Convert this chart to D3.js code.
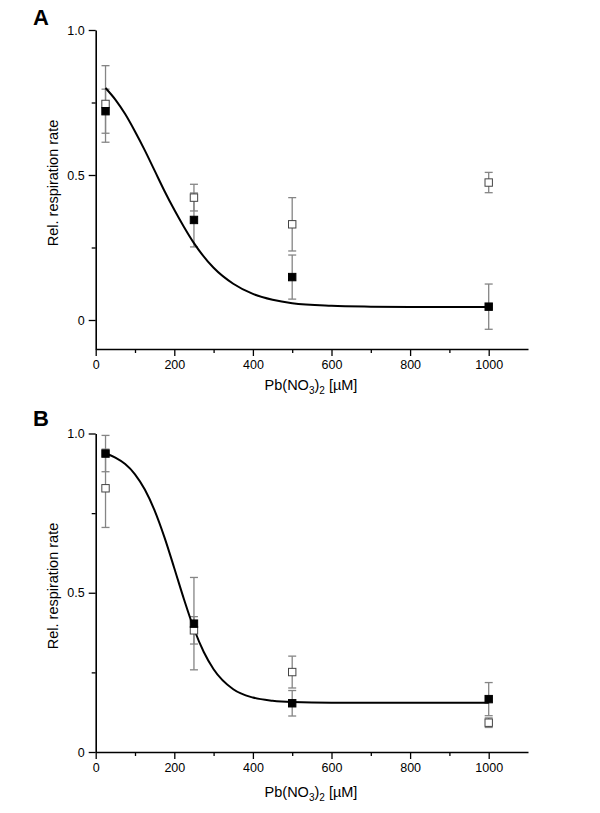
<!DOCTYPE html>
<html>
<head>
<meta charset="utf-8">
<script src="https://cdn.jsdelivr.net/npm/d3@7"></script>
<style>
  html, body { margin: 0; padding: 0; background: #fff; }
  svg { display: block; font-family: "Liberation Sans", Arial, sans-serif; }
</style>
</head>
<body>
<svg id="chart" width="600" height="813"></svg>
<script>
// ---------- data ----------
const concentrations = [25, 250, 500, 1000];

// Panel A
const aFilled = [0.72, 0.345, 0.148, 0.046];
const aFilledErr = [0.076, 0.093, 0.076, 0.078];
const aOpen = [0.745, 0.422, 0.33, 0.474];
const aOpenErr = [0.132, 0.046, 0.092, 0.035];
const aFitX = [25, 50, 75, 100, 125, 150, 175, 200, 225, 250, 300, 350, 400, 450, 500, 600, 700, 800, 1000];
const aFitY = [0.80, 0.76, 0.71, 0.65, 0.585, 0.515, 0.445, 0.38, 0.32, 0.265, 0.18, 0.125, 0.09, 0.07, 0.058, 0.049, 0.046, 0.045, 0.045];

// Panel B
const bFilled = [0.937, 0.403, 0.153, 0.166];
const bFilledErr = [0.057, 0.145, 0.04, 0.052];
const bOpen = [0.828, 0.382, 0.251, 0.092];
const bOpenErr = [0.123, 0.043, 0.05, 0.015];
const bFitX = [25, 50, 75, 100, 125, 150, 175, 200, 225, 250, 275, 300, 350, 400, 450, 500, 600, 1000];
const bFitY = [0.938, 0.924, 0.904, 0.872, 0.824, 0.758, 0.674, 0.577, 0.478, 0.387, 0.314, 0.26, 0.197, 0.171, 0.161, 0.157, 0.155, 0.155];

// ticks / labels
const xMajorTicks = [0, 200, 400, 600, 800, 1000];
const xTickLabels = ["0", "200", "400", "600", "800", "1000"];
const xMinorTicks = [100, 300, 500, 700, 900];
const yMajorTicks = [0, 0.5, 1.0];
const yMinorTicks = [0.25, 0.75];
const yTickLabels = ["0", "0.5", "1.0"];
const yTitle = "Rel. respiration rate";
const panelLetters = ["A", "B"];

// ---------- drawing ----------
const svg = d3.select("#chart");
const FONT = '"Liberation Sans", Arial, sans-serif';

function panel(cfg) {
  const x = d3.scaleLinear().domain([0, 1100]).range([95.7, 528]);
  const y = d3.scaleLinear().domain(cfg.yDomain).range(cfg.yRange);
  const g = svg.append("g");

  // minor ticks
  g.append("g").attr("transform", `translate(0,${cfg.yRange[0]})`)
    .call(d3.axisBottom(x).tickValues(xMinorTicks).tickSize(4).tickSizeOuter(0).tickFormat(""))
    .call(s => s.select(".domain").remove());
  g.append("g").attr("transform", `translate(${x(0)},0)`)
    .call(d3.axisLeft(y).tickValues(yMinorTicks).tickSize(4).tickSizeOuter(0).tickFormat(""))
    .call(s => s.select(".domain").remove());

  // major axes
  g.append("g").attr("transform", `translate(0,${cfg.yRange[0]})`)
    .call(d3.axisBottom(x).tickValues(xMajorTicks).tickSize(7).tickSizeOuter(0).tickPadding(4)
      .tickFormat((d, i) => xTickLabels[i]));
  g.append("g").attr("transform", `translate(${x(0)},0)`)
    .call(d3.axisLeft(y).tickValues(yMajorTicks).tickSize(7).tickSizeOuter(0).tickPadding(4)
      .tickFormat((d, i) => yTickLabels[i]));
  g.selectAll(".domain").attr("stroke", "#000").attr("stroke-width", 1.6);
  g.selectAll(".tick line").attr("stroke", "#000").attr("stroke-width", 1.3);
  g.selectAll(".tick text").attr("font-family", FONT).attr("font-size", 12.5).attr("fill", "#000");

  // error bars
  const series = [
    { vals: cfg.open, err: cfg.openErr, filled: false },
    { vals: cfg.filled, err: cfg.filledErr, filled: true }
  ];
  const eg = g.append("g").attr("stroke", "#858585").attr("stroke-width", 1.3).attr("fill", "none");
  series.forEach(s => {
    concentrations.forEach((c, i) => {
      const cx = x(c), y1 = y(s.vals[i] + s.err[i]), y2 = y(s.vals[i] - s.err[i]);
      eg.append("line").attr("x1", cx).attr("x2", cx).attr("y1", y1).attr("y2", y2);
      eg.append("line").attr("x1", cx - 4).attr("x2", cx + 4).attr("y1", y1).attr("y2", y1);
      eg.append("line").attr("x1", cx - 4).attr("x2", cx + 4).attr("y1", y2).attr("y2", y2);
    });
  });

  // fit curve
  const line = d3.line().x(d => x(d[0])).y(d => y(d[1])).curve(d3.curveMonotoneX);
  g.append("path").datum(cfg.fitX.map((v, i) => [v, cfg.fitY[i]]))
    .attr("d", line).attr("fill", "none").attr("stroke", "#000").attr("stroke-width", 2);

  // markers
  series.forEach(s => {
    g.append("g").selectAll("rect").data(s.vals).join("rect")
      .attr("x", (d, i) => x(concentrations[i]) - 3.7)
      .attr("y", d => y(d) - 3.7)
      .attr("width", 7.4).attr("height", 7.4)
      .attr("fill", s.filled ? "#000" : "#fff")
      .attr("stroke", s.filled ? "#000" : "#444")
      .attr("stroke-width", 1);
  });

  // x title
  const xt = g.append("text").attr("x", 311).attr("y", cfg.xTitleY)
    .attr("text-anchor", "middle").attr("font-family", FONT).attr("font-size", 14.5).attr("fill", "#000");
  xt.append("tspan").text("Pb(NO");
  xt.append("tspan").attr("font-size", 10).attr("dy", 4).text("3");
  xt.append("tspan").attr("dy", -4).text(")");
  xt.append("tspan").attr("font-size", 10).attr("dy", 4).text("2");
  xt.append("tspan").attr("dy", -4).text(" [µM]");

  // y title
  g.append("text").attr("transform", `translate(58,${cfg.yTitleY}) rotate(-90)`)
    .attr("text-anchor", "middle").attr("font-family", FONT).attr("font-size", 14.5).attr("fill", "#000")
    .text(yTitle);

  // panel letter
  g.append("text").attr("x", 33).attr("y", cfg.letterY)
    .attr("font-family", FONT).attr("font-weight", "bold").attr("font-size", 22).attr("fill", "#000")
    .text(cfg.letter);
}

panel({
  yDomain: [-0.1, 1.0], yRange: [349, 30],
  filled: aFilled, filledErr: aFilledErr, open: aOpen, openErr: aOpenErr,
  fitX: aFitX, fitY: aFitY, xTitleY: 390, yTitleY: 183, letter: panelLetters[0], letterY: 25
});
panel({
  yDomain: [0, 1.0], yRange: [752, 433.5],
  filled: bFilled, filledErr: bFilledErr, open: bOpen, openErr: bOpenErr,
  fitX: bFitX, fitY: bFitY, xTitleY: 797, yTitleY: 586, letter: panelLetters[1], letterY: 426
});
</script>
</body>
</html>
